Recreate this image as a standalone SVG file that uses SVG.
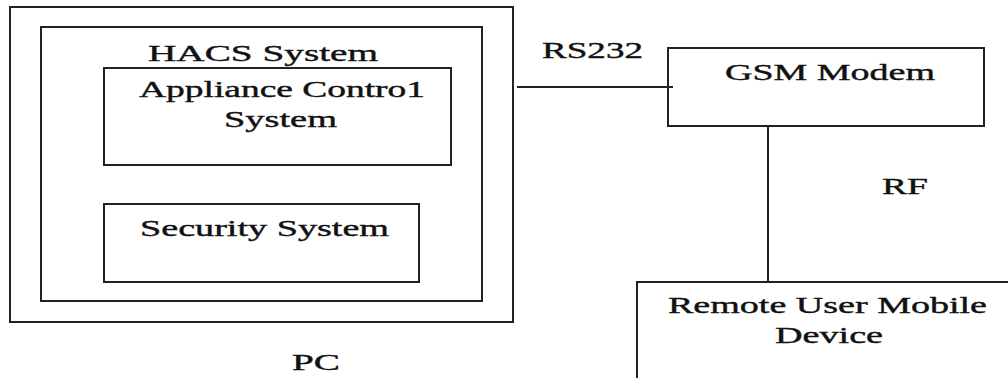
<svg xmlns="http://www.w3.org/2000/svg" width="1008" height="378" viewBox="0 0 1008 378">
<style>
rect{fill:none;stroke:#222;stroke-width:2}
line{stroke:#222;stroke-width:2}
text{font-family:"Liberation Serif","Times New Roman",serif;font-size:24px;fill:#111;stroke:#111;stroke-width:0.4}
</style>
<rect x="0" y="0" width="1008" height="378" style="fill:#fff;stroke:none"/>
<g id="pc">
<rect x="10" y="7" width="503" height="315"/>
<text x="292" y="370" textLength="48" lengthAdjust="spacingAndGlyphs">PC</text>
</g>
<g id="hacs">
<rect x="41" y="27" width="441" height="274"/>
<text x="148" y="61" textLength="230" lengthAdjust="spacingAndGlyphs">HACS System</text>
</g>
<g id="appliance">
<rect x="104" y="68" width="347" height="97"/>
<text x="139" y="97" textLength="286" lengthAdjust="spacingAndGlyphs">Appliance Contro1</text>
<text x="224" y="127" textLength="113" lengthAdjust="spacingAndGlyphs">System</text>
</g>
<g id="security">
<rect x="104" y="204" width="315" height="78"/>
<text x="140" y="236" textLength="249" lengthAdjust="spacingAndGlyphs">Security System</text>
</g>
<g id="gsm">
<rect x="668" y="48" width="316" height="78"/>
<text x="725" y="80" textLength="210" lengthAdjust="spacingAndGlyphs">GSM Modem</text>
</g>
<g id="remote">
<rect x="637" y="282" width="400" height="120"/>
<text x="668" y="313" textLength="319" lengthAdjust="spacingAndGlyphs">Remote User Mobile</text>
<text x="775" y="343" textLength="108" lengthAdjust="spacingAndGlyphs">Device</text>
</g>
<g id="connectors">
<line x1="517" y1="87" x2="673" y2="87"/>
<text x="542" y="58" textLength="101" lengthAdjust="spacingAndGlyphs">RS232</text>
<line x1="768" y1="126" x2="768" y2="282"/>
<text x="882" y="194" textLength="46" lengthAdjust="spacingAndGlyphs">RF</text>
</g>
</svg>
